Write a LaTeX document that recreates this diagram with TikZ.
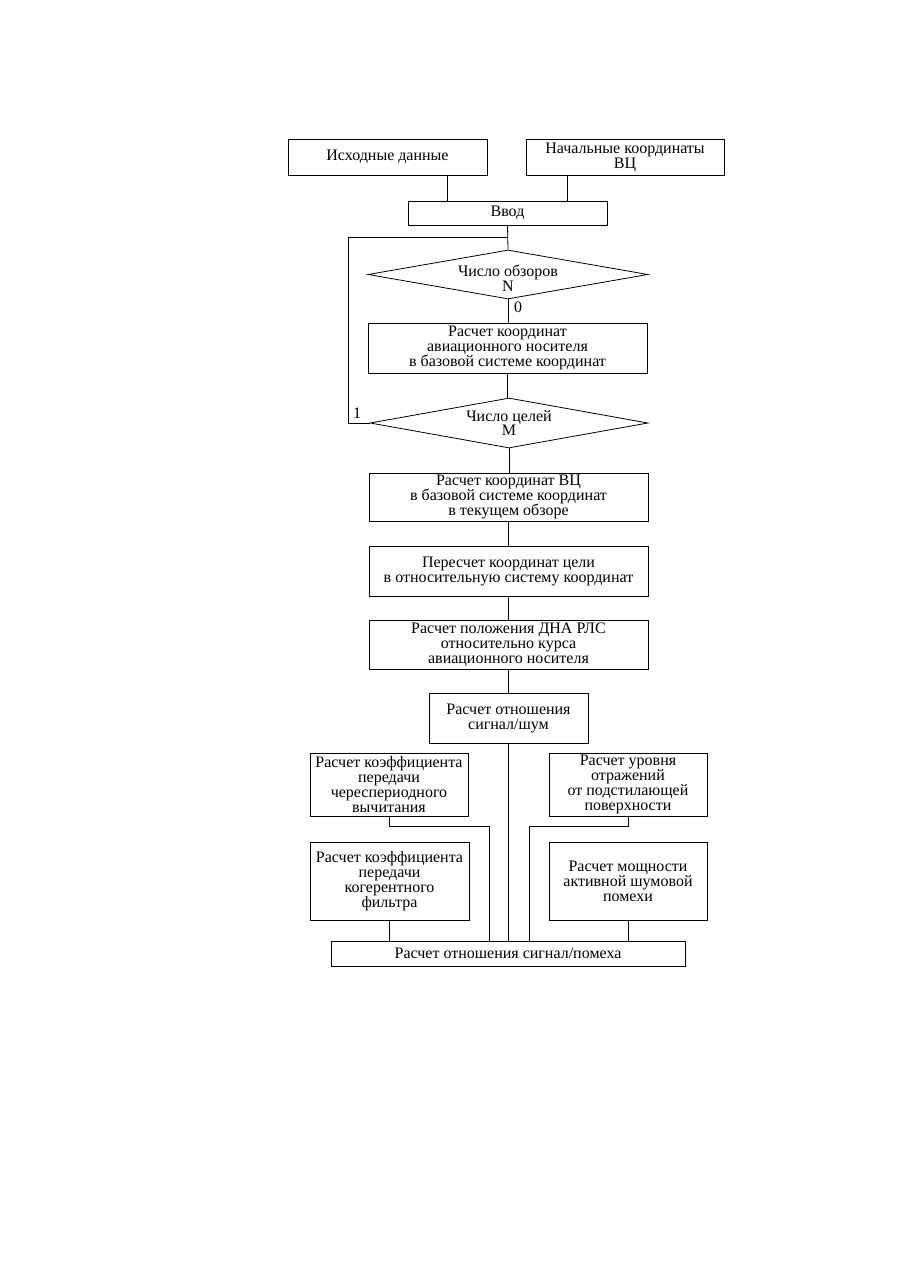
\documentclass[tikz,border=0pt]{standalone}
\usepackage{fontspec}
\setmainfont{Liberation Serif}
\usetikzlibrary{positioning,shapes.geometric,calc}

\begin{document}
\begin{tikzpicture}[x=0.75pt,y=-0.75pt, line width=0.6pt,
        blok/.style={draw, rectangle, align=center, inner sep=0pt,
            font=\fontsize{12pt}{11.25pt}\selectfont},
        romb/.style={draw, diamond, inner sep=0pt},
        romblabel/.style={align=center, font=\fontsize{12pt}{8.5pt}\selectfont},
        metka/.style={inner sep=0pt, font=\fontsize{12pt}{11.25pt}\selectfont}]
        \useasboundingbox (0,0) rectangle (897,1266);

        % Ввод данных
        \node[blok, minimum width=149.25pt, minimum height=27pt] (ish) at (387.5,157) {Исходные данные};
        \node[blok, minimum width=148.5pt, minimum height=27pt] (nach) at (625,157)
            {Начальные координаты\\ВЦ};
        \node[blok, minimum width=149.25pt, minimum height=18pt] (vvod) at (507.5,213) {Ввод};
        \draw (447,0 |- ish.south) -- (447,0 |- vvod.north);
        \draw (567,0 |- nach.south) -- (567,0 |- vvod.north);

        % Циклы по обзорам и целям
        \node[romb, minimum width=210pt, minimum height=36.75pt,
            label={[romblabel, yshift=-3pt]center:Число обзоров\\N}] (d1) at (508,274.5) {};
        \node[blok, minimum width=209.25pt, minimum height=37.5pt] (avia) at (507.5,348)
            {Расчет координат\\авиационного носителя\\в базовой системе координат};
        \node[romb, minimum width=208.5pt, minimum height=37.5pt,
            label={[romblabel]center:Число целей\\M}] (d2) at (509,423) {};
        \coordinate (lp) at (348,237);
        \node[metka] (n0) at (518,307) {0};
        \node[metka] (n1) at (357,413) {1};

        \draw (vvod.south) -- (d1.north);
        \draw (d1.south) -- (d1.south |- avia.north);
        \draw (avia.south) -- (avia.south |- d2.north);
        \draw (d2.west) -- (d2.west -| lp) -- (lp) -- (lp -| d1.north);

        % Основные расчеты
        \node[blok, minimum width=209.25pt, minimum height=36pt] (vc) at (508.5,497)
            {Расчет координат ВЦ\\в базовой системе координат\\в текущем обзоре};
        \node[blok, minimum width=209.25pt, minimum height=37.5pt] (per) at (508.5,571)
            {Пересчет координат цели\\в относительную систему координат};
        \node[blok, minimum width=209.25pt, minimum height=36.75pt] (dna) at (508.5,644.5)
            {Расчет положения ДНА РЛС\\относительно курса\\авиационного носителя};
        \node[blok, minimum width=119.25pt, minimum height=37.5pt] (sn) at (508.5,718)
            {Расчет отношения\\сигнал/шум};
        \draw (d2.south) -- (d2.south |- vc.north);
        \draw (vc.south) -- (vc.south |- per.north);
        \draw (per.south) -- (per.south |- dna.north);
        \draw (dna.south) -- (dna.south |- sn.north);

        % Коэффициенты и помехи
        \node[blok, minimum width=118.5pt, minimum height=47.25pt] (kchv) at (389,784.5)
            {Расчет коэффициента\\передачи\\череспериодного\\вычитания};
        \node[blok, minimum width=118.5pt, minimum height=47.25pt] (otr) at (628,784.5)
            {Расчет уровня\\отражений\\от подстилающей\\поверхности};
        \node[blok, minimum width=119.25pt, minimum height=58.5pt] (kkf) at (389.5,881)
            {Расчет коэффициента\\передачи\\когерентного\\фильтра};
        \node[blok, minimum width=118.5pt, minimum height=58.5pt] (apsh) at (628,881)
            {Расчет мощности\\активной шумовой\\помехи};
        \node[blok, minimum width=265.5pt, minimum height=18.75pt] (spm) at (508,953.5)
            {Расчет отношения сигнал/помеха};

        \draw (sn.south) -- (sn.south |- spm.north);
        \draw (kchv.south) -- (kchv.south |- 0,826) -| (489,0 |- spm.north);
        \draw (otr.south) -- (otr.south |- 0,826) -| (529,0 |- spm.north);
        \draw (kkf.south) -- (kkf.south |- spm.north);
        \draw (apsh.south) -- (apsh.south |- spm.north);
\end{tikzpicture}
\end{document}
